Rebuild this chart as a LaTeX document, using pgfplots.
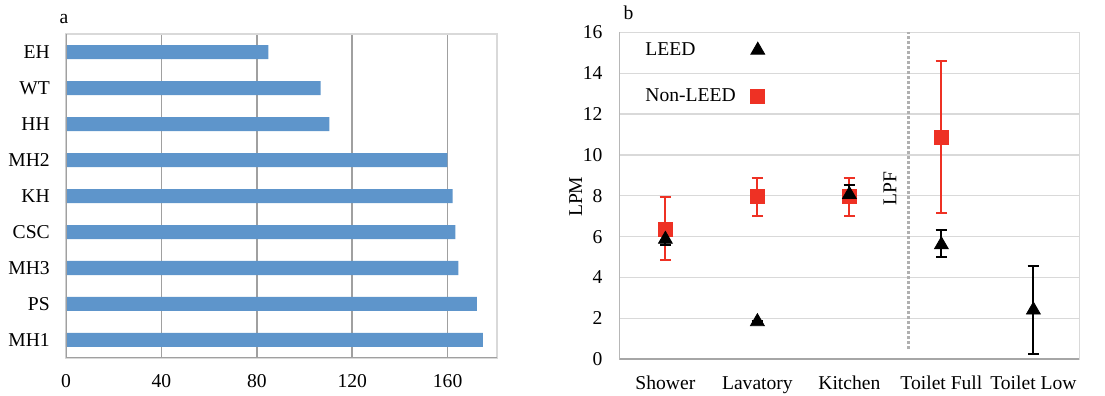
\documentclass[border=0pt]{standalone}
\usepackage{pgfplots}
\pgfplotsset{compat=1.18}
\usepackage{fontspec}
\setmainfont{Liberation Serif}
\definecolor{barblue}{HTML}{5E95CB}
\definecolor{mred}{HTML}{EE3124}
\definecolor{gridg}{HTML}{A0A0A0}
\definecolor{lightg}{HTML}{D9D9D9}
\definecolor{axg}{HTML}{A6A6A6}
\definecolor{dotg}{HTML}{B0B0B0}
\pgfplotsset{mylegimg/.style={legend image code/.code={%
    \path[draw=none, fill=none] (0pt,0pt) -- (9pt,0pt);
    \draw[##1] plot coordinates {(9pt,0pt)};}}}
\begin{document}
\fontsize{9.8}{11.8}\selectfont
\begin{tikzpicture}
\useasboundingbox (0,0) rectangle (552.5pt,198pt);
\pgfplotsset{
  every axis/.append style={
    /pgf/number format/assume math mode=true,
    tick label style={font=\fontsize{9.8}{11.8}\selectfont},
    label style={font=\fontsize{9.8}{11.8}\selectfont},
    tick style={draw=none},
    axis line style={lightg, line width=0.6pt},
    xticklabel style={yshift=-5pt},
  }
}
% ---------------- panel a ----------------
\begin{axis}[
  at={(33pt,19pt)}, anchor=south west,
  scale only axis, width=215.5pt, height=162pt,
  xbar, bar width=7pt,
  xmin=0, xmax=180.7, ymin=-0.5, ymax=8.5,
  xtick={0,40,80,120,160},
  ytick={0,...,8},
  yticklabels={MH1,PS,MH3,CSC,KH,MH2,HH,WT,EH},
  yticklabel style={xshift=-0.4pt},
  xmajorgrids, major grid style={gridg, line width=0.75pt},
]
\addplot[fill=barblue, draw=none] coordinates {
  (174.8,0) (172.3,1) (164.5,2) (163.2,3) (162.1,4)
  (159.9,5) (110.4,6) (106.8,7) (84.8,8)};
\draw[gridg, line width=0.9pt] (rel axis cs:0,1) -- (rel axis cs:0,0) -- (rel axis cs:1,0);
\end{axis}
\node[anchor=base] at (32pt,186.3pt) {a};
% ---------------- panel b ----------------
\begin{axis}[
  at={(309.7pt,18.35pt)}, anchor=south west,
  scale only axis, width=230pt, height=163.5pt,
  xmin=-0.5, xmax=4.5, ymin=0, ymax=16,
  xtick={0,...,4},
  xticklabels={Shower,Lavatory,Kitchen,Toilet Full,Toilet Low},
  ytick={0,2,...,16},
  yticklabel style={xshift=-5pt},
  ymajorgrids, major grid style={lightg, line width=0.6pt},
  ylabel={LPM},
  ylabel style={at={(axis description cs:-0.0948,0.497)}, anchor=center},
  reverse legend,
  legend plot pos=right,
  legend cell align=left,
  legend style={draw=none, fill=none, at={(0.034,0.995)}, anchor=north west,
    row sep=11.2pt, font=\fontsize{9.8}{11.8}\selectfont},
]
\addplot[dotg, line width=1.4pt, dash pattern=on 1.3pt off 1.2pt, forget plot]
  coordinates {(2.64,0.5) (2.64,16)};
\addplot[only marks, mark=square*, mark size=3.5pt, color=mred, mylegimg,
  error bars/.cd, y dir=both, y explicit,
  error bar style={draw=mred, line width=1pt},
  error mark options={rotate=90, mark size=2.9pt, draw=mred, line width=1pt}]
  coordinates {
  (0,6.36) += (0,1.57) -= (0,1.50)
  (1,7.96) += (0,0.91) -= (0,0.93)
  (2,7.99) += (0,0.88) -= (0,0.99)
  (3,10.86) += (0,3.73) -= (0,3.72)
};
\addlegendentry{Non-LEED}
\addplot[only marks, mark=triangle*, mark size=4pt, color=black, mylegimg,
  error bars/.cd, y dir=both, y explicit,
  error bar style={draw=black, line width=1pt},
  error mark options={rotate=90, mark size=2.9pt, draw=black, line width=1pt}]
  coordinates {
  (0,5.87) += (0,0.3) -= (0,0.3)
  (1,1.84) += (0,0.05) -= (0,0.05)
  (2,8.06) += (0,0.48) -= (0,0.40)
  (3,5.6) += (0,0.73) -= (0,0.58)
  (4,2.41) += (0,2.15) -= (0,2.15)
};
\addlegendentry{LEED}
\node[rotate=90] at (axis cs:2.44,8.37) {LPF};
\draw[axg, line width=0.9pt] (rel axis cs:0,1) -- (rel axis cs:0,0) -- (rel axis cs:1,0);
\end{axis}
\node[anchor=base] at (314.2pt,188pt) {b};
\end{tikzpicture}
\end{document}
